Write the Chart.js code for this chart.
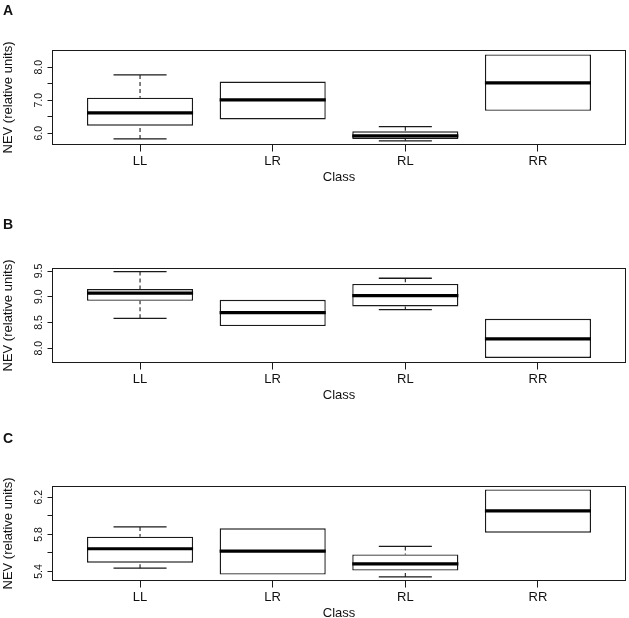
<!DOCTYPE html>
<html>
<head>
<meta charset="utf-8">
<script src="https://cdn.jsdelivr.net/npm/chart.js@4.4.1/dist/chart.umd.min.js"></script>
<style>
  body { margin: 0; background: #fff; width: 629px; height: 618px; position: relative; overflow: hidden; font-family: "Liberation Sans", Arial, sans-serif; }
  .panel { position: absolute; left: 0; width: 629px; height: 200px; }
  .tag { position: absolute; left: 3px; font-weight: bold; font-size: 14px; line-height: 14px; color: #111; }
</style>
</head>
<body>
<div class="panel" style="top:0px"><canvas id="chartA" width="629" height="200"></canvas></div>
<div class="panel" style="top:218px"><canvas id="chartB" width="629" height="200"></canvas></div>
<div class="panel" style="top:436px"><canvas id="chartC" width="629" height="200"></canvas></div>
<div class="tag" style="top:3px">A</div>
<div class="tag" style="top:217px">B</div>
<div class="tag" style="top:431px">C</div>
<script>
var classes = ["LL", "LR", "RL", "RR"];

// A
var aLow = [5.83, 6.42, 5.77, 6.68];
var aQ1 = [6.23, 6.42, 5.83, 6.68];
var aMed = [6.62, 7.01, 5.92, 7.53];
var aQ3 = [7.08, 7.57, 6.06, 8.39];
var aHigh = [7.77, 7.57, 6.20, 8.39];
var aTicks = [6.0, 6.5, 7.0, 7.5, 8.0];
var aTickLabels = ["6.0", "", "7.0", "", "8.0"];

// B
var bLow = [8.58, 8.43, 8.75, 7.81];
var bQ1 = [8.92, 8.43, 8.81, 7.81];
var bMed = [9.07, 8.69, 9.02, 8.18];
var bQ3 = [9.15, 8.94, 9.25, 8.57];
var bHigh = [9.49, 8.94, 9.36, 8.57];
var bTicks = [8.0, 8.5, 9.0, 9.5];
var bTickLabels = ["8.0", "8.5", "9.0", "9.5"];

// C
var cLow = [5.436, 5.367, 5.342, 5.818];
var cQ1 = [5.494, 5.367, 5.41, 5.818];
var cMed = [5.645, 5.62, 5.483, 6.052];
var cQ3 = [5.775, 5.865, 5.584, 6.283];
var cHigh = [5.88, 5.865, 5.67, 6.283];
var cTicks = [5.4, 5.6, 5.8, 6.0, 6.2];
var cTickLabels = ["5.4", "", "5.8", "", "6.2"];

var ink = "#1a1a1a";
var fontFamily = "'Liberation Sans', Arial, sans-serif";

// box frame around the plot region
var framePlugin = {
  id: "frame",
  afterDatasetsDraw: function (chart) {
    var a = chart.chartArea;
    var ctx = chart.ctx;
    ctx.save();
    ctx.strokeStyle = ink;
    ctx.lineWidth = 1;
    ctx.strokeRect(a.left, a.top, a.right - a.left, a.bottom - a.top);
    ctx.restore();
  }
};

function boxChart(id, low, q1, med, q3, high, ticks, tickLabels, yMin, yMax) {
  var boxes = [], medians = [], whiskers = [], caps = [];
  classes.forEach(function (c, i) {
    var x = i + 1;
    boxes.push({ x: x, y: [q1[i], q3[i]] });
    medians.push({ x: x - 0.4, y: med[i] }, { x: x + 0.4, y: med[i] }, { x: x, y: null });
    // whisker + staple only where it sticks out of the box
    if (high[i] > q3[i]) {
      whiskers.push({ x: x, y: high[i] }, { x: x, y: q3[i] }, { x: x, y: null });
      caps.push({ x: x - 0.2, y: high[i] }, { x: x + 0.2, y: high[i] }, { x: x, y: null });
    }
    if (low[i] < q1[i]) {
      whiskers.push({ x: x, y: low[i] }, { x: x, y: q1[i] }, { x: x, y: null });
      caps.push({ x: x - 0.2, y: low[i] }, { x: x + 0.2, y: low[i] }, { x: x, y: null });
    }
  });

  return new Chart(document.getElementById(id).getContext("2d"), {
    type: "bar",
    data: {
      datasets: [
        {
          type: "line",
          data: medians,
          borderColor: "#000",
          borderWidth: 3.2,
          borderCapStyle: "butt",
          pointRadius: 0,
          order: 0
        },
        {
          type: "line",
          data: caps,
          borderColor: ink,
          borderWidth: 1.3,
          pointRadius: 0,
          order: 1
        },
        {
          type: "line",
          data: whiskers,
          borderColor: ink,
          borderWidth: 1.1,
          borderDash: [4, 3],
          pointRadius: 0,
          order: 2
        },
        {
          type: "bar",
          data: boxes,
          backgroundColor: "#fff",
          borderColor: ink,
          borderWidth: 1.4,
          borderSkipped: false,
          categoryPercentage: 1,
          barPercentage: 0.8,
          order: 3
        }
      ]
    },
    options: {
      responsive: false,
      animation: false,
      events: [],
      layout: { padding: { left: 0, top: 50.5, right: 3.5, bottom: 0 } },
      plugins: { legend: { display: false }, tooltip: { enabled: false } },
      scales: {
        x: {
          type: "linear",
          min: 0.34,
          max: 4.66,
          offset: false,
          afterBuildTicks: function (scale) {
            scale.ticks = classes.map(function (c, i) { return { value: i + 1 }; });
          },
          afterFit: function (scale) { scale.height = 55.5; },
          border: { display: false },
          grid: { offset: false, drawOnChartArea: false, drawTicks: true, tickLength: 7, color: ink },
          ticks: {
            autoSkip: false,
            maxRotation: 0,
            padding: 2,
            color: "#111",
            font: { family: fontFamily, size: 13 },
            callback: function (v) { return classes[v - 1]; }
          },
          title: {
            display: true,
            text: "Class",
            color: "#111",
            font: { family: fontFamily, size: 13 },
            padding: { top: 0, bottom: 14.7 }
          }
        },
        y: {
          min: yMin,
          max: yMax,
          afterBuildTicks: function (scale) {
            scale.ticks = ticks.map(function (v) { return { value: v }; });
          },
          afterFit: function (scale) { scale.width = 52.5; },
          border: { display: false },
          grid: { drawOnChartArea: false, drawTicks: true, tickLength: 5, color: ink },
          ticks: {
            minRotation: 90,
            maxRotation: 90,
            crossAlign: "center",
            padding: 1,
            color: "#111",
            font: { family: fontFamily, size: 10.5 },
            callback: function (v) {
              var k = ticks.indexOf(v);
              return k < 0 ? "" : tickLabels[k];
            }
          },
          title: {
            display: true,
            text: "NEV (relative units)",
            color: "#111",
            font: { family: fontFamily, size: 13 },
            padding: { top: 1, bottom: 0 }
          }
        }
      }
    },
    plugins: [framePlugin]
  });
}

boxChart("chartA", aLow, aQ1, aMed, aQ3, aHigh, aTicks, aTickLabels, 5.66, 8.51);
boxChart("chartB", bLow, bQ1, bMed, bQ3, bHigh, bTicks, bTickLabels, 7.72, 9.55);
boxChart("chartC", cLow, cQ1, cMed, cQ3, cHigh, cTicks, cTickLabels, 5.303, 6.315);
</script>
</body>
</html>
